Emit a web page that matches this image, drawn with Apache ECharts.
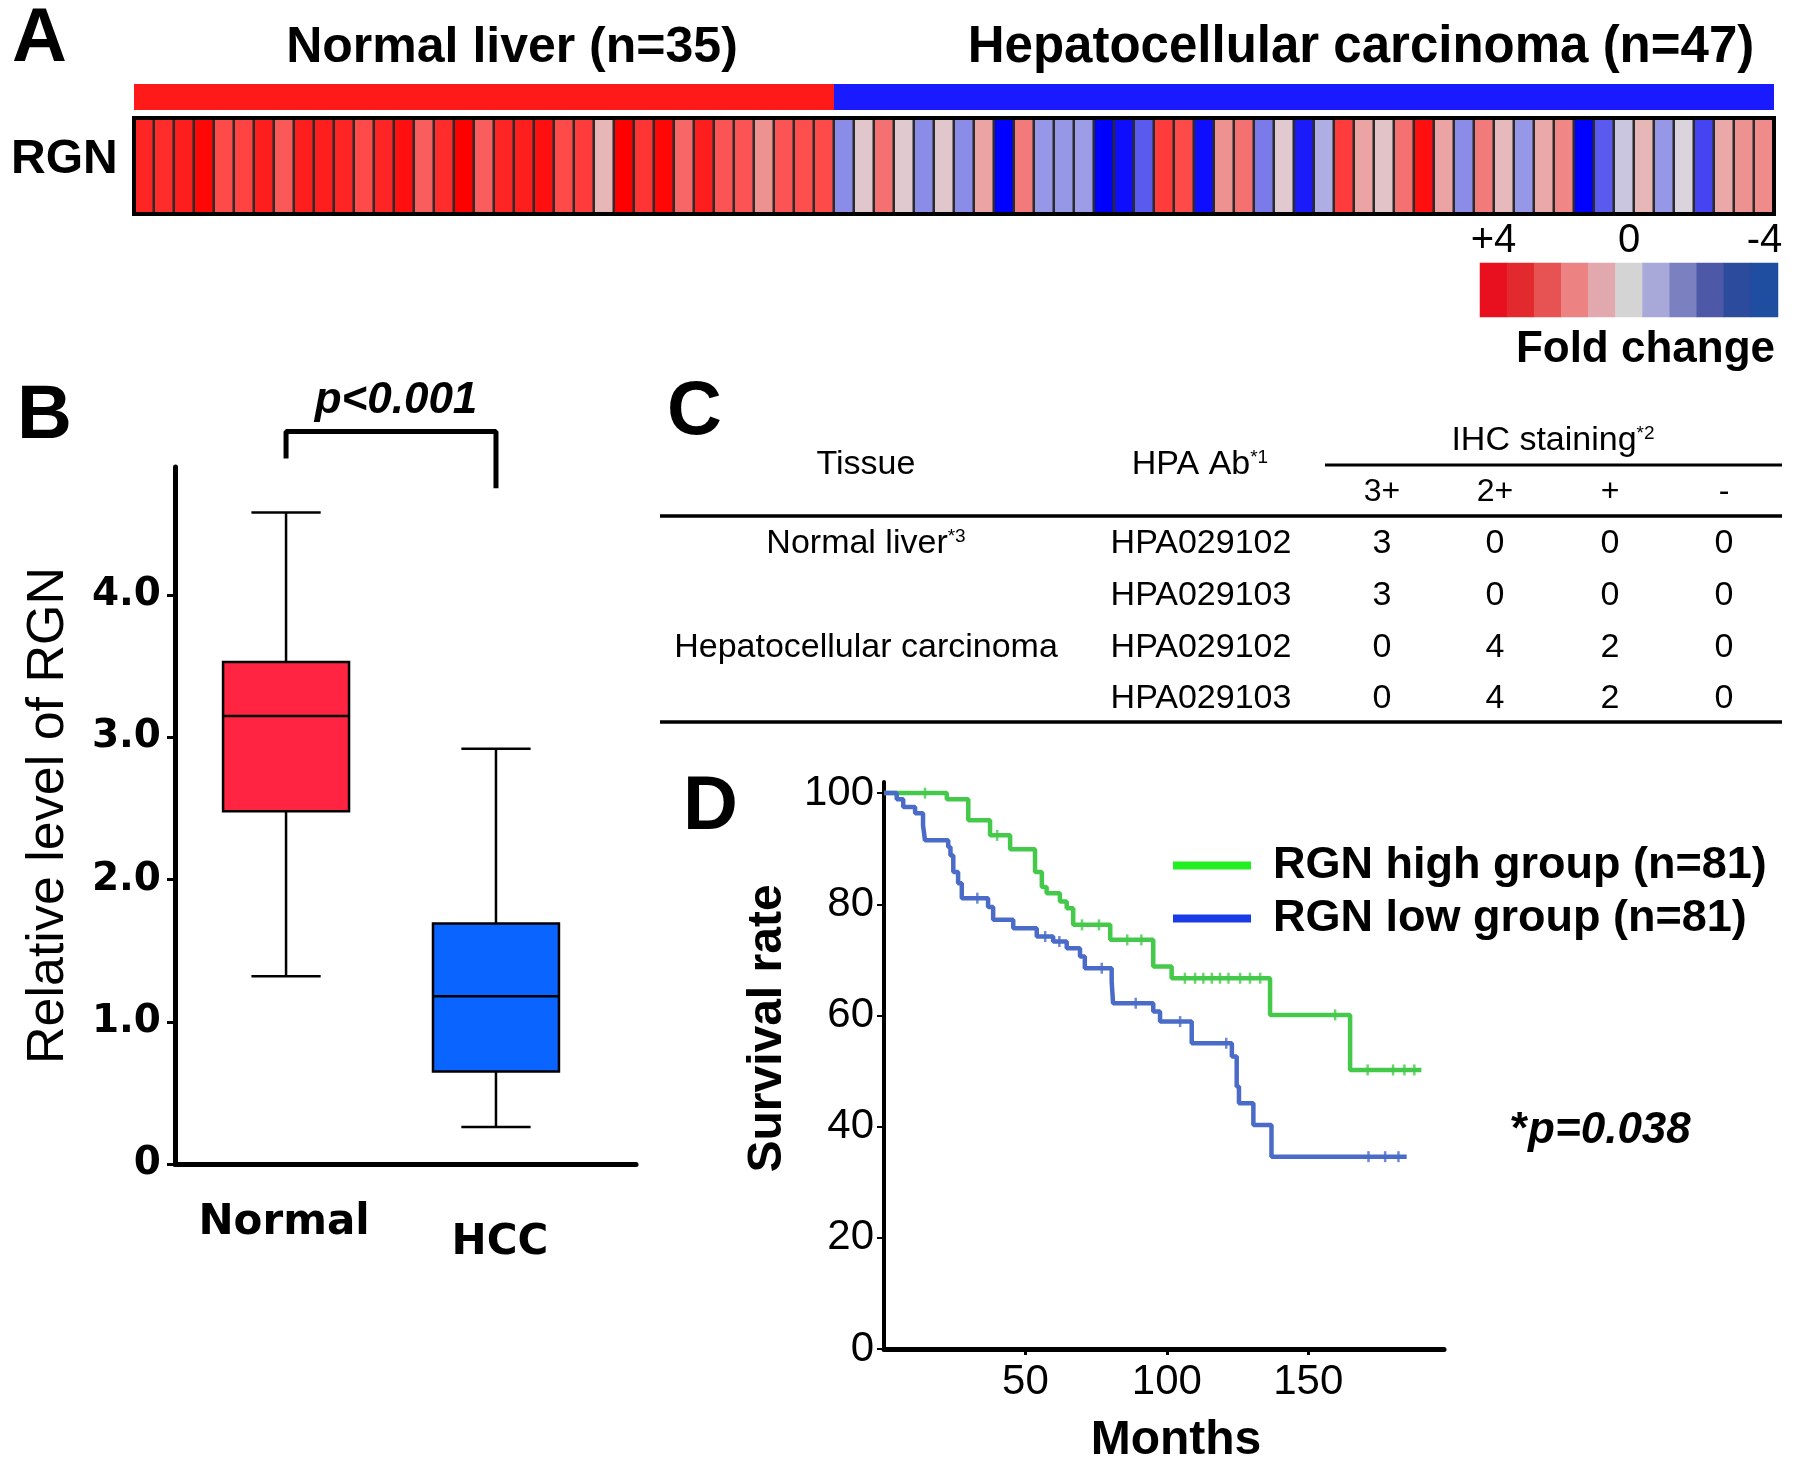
<!DOCTYPE html>
<html>
<head>
<meta charset="utf-8">
<script src="https://cdn.jsdelivr.net/npm/echarts/dist/echarts.min.js"></script>
<style>
  html, body { margin: 0; padding: 0; background: #fff; }
  #chart { width: 1795px; height: 1468px; }
</style>
</head>
<body>
<div id="chart"></div>
<script>
const FONT = 'Liberation Sans, Arial, sans-serif'
const WIDE = 'DejaVu Sans, sans-serif'

// A: heatmap fold changes
const normalFold = [3.5, 3.4, 3.6, 3.9, 3.0, 3.1, 3.6, 2.7, 3.6, 3.6, 3.5, 3.0, 3.5, 3.8, 2.6, 3.4, 4.0, 2.6,
  3.5, 3.6, 3.8, 3.0, 3.2, 0.9, 4.0, 3.3, 3.9, 2.4, 3.6, 2.8, 2.8, 1.6, 2.8, 2.9, 3.0]
const hccFold = [-1.6, 0.4, 2.2, 0.3, -1.6, 0.4, -1.6, 1.3, -4, 2.0, -1.3, -1.3, -1.2, -4, -3.8, -2.6, 3.2, 3.0,
  -3.8, 1.6, 2.2, -2.0, 0.3, -3.6, -0.8, 3.2, 1.3, 0.5, 2.2, 3.8, 1.3, -1.6, 2.0, 0.8, -1.3, 1.2, 1.8, -4,
  -2.6, -0.3, 0.9, -1.3, 0.0, -3.0, 1.2, 1.6, 1.7]
const groupNames = ['Normal liver (n=35)', 'Hepatocellular carcinoma (n=47)']
const legendValues = [4, 3.2, 2.4, 1.6, 0.8, 0, -0.8, -1.6, -2.4, -3.2, -4]
const legendTicks = ['+4', '', '', '', '', '0', '', '', '', '', '-4']

// B: box plot (min, q1, median, q3, max)
const boxGroups = ['Normal', 'HCC']
const normalStats = [1.32, 2.48, 3.15, 3.53, 4.58]
const hccStats = [0.26, 0.65, 1.18, 1.69, 2.92]
const boxTicks = [0, 1, 2, 3, 4]
const bracketPoints = [[0, 4.96], [0, 5.15], [1, 5.15], [1, 4.75]]

// C: table
const tableHead = ['Tissue', 'HPA Ab', 'IHC staining']
const stainLevels = ['3+', '2+', '+', '-']
const tableRows = [
  ['Normal liver', 'HPA029102', 3, 0, 0, 0],
  ['', 'HPA029103', 3, 0, 0, 0],
  ['Hepatocellular carcinoma', 'HPA029102', 0, 4, 2, 0],
  ['', 'HPA029103', 0, 4, 2, 0]
]

// D: Kaplan-Meier
const highTimes = [0, 22.2, 29.8, 37.5, 44.6, 53.4, 55.8, 57.5, 62.2, 64.6, 66.9, 80, 95.2, 101.7, 136.5, 164.8, 190]
const highSurv = [100, 98.9, 95.1, 92.4, 89.9, 85.8, 83.1, 82, 80.5, 79.3, 76.3, 73.6, 68.8, 66.7, 60.1, 50.2, 50.2]
const lowTimes = [0, 4.5, 6.8, 11, 13.8, 14.5, 22.7, 23.5, 24.5, 26.2, 27.5, 36.8, 38.6, 45.7, 54, 59.8, 64.6,
  69.3, 71, 80.5, 81, 95.2, 97.6, 108.8, 123, 124.7, 125.5, 130.6, 137, 184.8]
const lowSurv = [100, 98.9, 97.5, 96.4, 94.2, 91.5, 90.3, 88.8, 85.8, 83.8, 81.1, 79.5, 77.2, 75.7, 74.2, 73.3, 72.1,
  70.6, 68.5, 66.1, 62.2, 60.7, 58.9, 55.0, 52.6, 47.2, 44.2, 40.3, 34.6, 34.6]
const highCensor = [[14.5, 100], [40, 92.4], [70, 76.3], [76, 76.3], [86, 73.6], [91, 73.6], [106.4, 66.7], [110, 66.7],
  [112.9, 66.7], [115.9, 66.7], [118.8, 66.7], [121.8, 66.7], [125.9, 66.7], [129.4, 66.7], [133, 66.7],
  [159.5, 60.1], [171, 50.2], [180, 50.2], [184, 50.2], [187.5, 50.2]]
const lowCensor = [[33, 81.1], [57, 74.2], [62, 73.3], [77, 68.5], [89, 62.2], [104.7, 58.9], [121, 55],
  [171.3, 34.6], [177.2, 34.6], [181.9, 34.6]]
const kmNames = ['RGN high group (n=81)', 'RGN low group (n=81)']
const kmYTicks = [0, 20, 40, 60, 80, 100]
const kmXTicks = [50, 100, 150]

// styles
const heatColors = ['#0000ff', '#4444f2', '#7a7aea', '#a4a4e6', '#dcd4dc', '#e8b4b4', '#f27a7a', '#ff4a4a', '#ff0000']
const legendColors = ['#e8101e', '#e22a2e', '#e75252', '#ec8282', '#e1a9ad', '#d4d4d4', '#a9a9d9', '#7a80c0',
  '#4d58a7', '#2c4b9d', '#1f4d9f']
const groupColors = ['#ff1a1a', '#1a1aff']
const boxColors = ['#ff2442', '#0a64ff']
const kmColors = ['#45c94a', '#4a6cc8']
const kmLegendColors = ['#22ee22', '#1a3ce6']

const allFold = normalFold.concat(hccFold)
const heatData = allFold.map((v, i) => [i, 0, v])
const groupRanges = [[0, 0, normalFold.length - 1], [normalFold.length, 0, allFold.length - 1]]

function label(text, x, y, size, weight, align, extra) {
  return {
    type: 'text', x: x, y: y, z: 10,
    style: Object.assign({
      text: text, fill: '#000', fontSize: size, fontWeight: weight || 'normal', fontFamily: FONT,
      textAlign: align || 'center', textVerticalAlign: 'middle'
    }, extra || {})
  }
}
function hline(x1, x2, y, w) {
  return { type: 'line', z: 10, shape: { x1: x1, y1: y, x2: x2, y2: y }, style: { stroke: '#000', lineWidth: w } }
}
const sup = {
  m: { fontSize: 34, fontFamily: FONT, fill: '#000' },
  s: { fontSize: 19, fontFamily: FONT, fill: '#000', verticalAlign: 'top' }
}

const graphics = [
  { type: 'rect', z: 100, shape: { x: 134, y: 118, width: 1640, height: 96 }, style: { fill: 'none', stroke: '#000', lineWidth: 4 } },
  label('A', 12, 40, 76, 'bold', 'left'),
  label(groupNames[0], 512, 48, 50, 'bold'),
  label(groupNames[1], 1361, 48, 51, 'bold'),
  label('RGN', 11, 160, 48, 'bold', 'left'),
  label('Fold change', 1775, 350, 44, 'bold', 'right'),
  label('B', 17, 417, 76, 'bold', 'left'),
  label('p<0.001', 396, 401, 44, 'bold', 'center', { fontStyle: 'italic' }),
  label('C', 667, 413, 76, 'bold', 'left'),
  label('D', 683, 808, 76, 'bold', 'left'),
  label('{n|*}{i|p=0.038}', 1511, 1131, 44, 'bold', 'left', {
    rich: {
      n: { fontSize: 44, fontWeight: 'bold', fontFamily: FONT, fill: '#000' },
      i: { fontSize: 44, fontWeight: 'bold', fontStyle: 'italic', fontFamily: FONT, fill: '#000' }
    }
  }),
  // table
  label('{m|' + tableHead[0] + '}', 866, 465, 34, 'normal', 'center', { rich: sup }),
  label('{m|' + tableHead[1] + '}{s|*1}', 1200, 465, 34, 'normal', 'center', { rich: sup }),
  label('{m|' + tableHead[2] + '}{s|*2}', 1553, 441, 34, 'normal', 'center', { rich: sup }),
  hline(1325, 1782, 465, 3),
  hline(660, 1782, 516, 3.5),
  hline(660, 1782, 722, 3.5)
]
const levelX = [1382, 1495, 1610, 1724]
const rowY = [544, 596, 648, 699]
stainLevels.forEach((s, i) => graphics.push(label(s, levelX[i], 492, 32)))
tableRows.forEach((row, r) => {
  if (row[0]) {
    const t = r === 0 ? '{m|' + row[0] + '}{s|*3}' : '{m|' + row[0] + '}'
    graphics.push(label(t, 866, rowY[r], 34, 'normal', 'center', { rich: sup }))
  }
  graphics.push(label(row[1], 1201, rowY[r], 34))
  for (let k = 0; k < 4; k++) graphics.push(label(String(row[2 + k]), levelX[k], rowY[r], 34))
})

const chart = echarts.init(document.getElementById('chart'))
const option = {
  animation: false,
  backgroundColor: '#fff',
  textStyle: { fontFamily: FONT, color: '#000' },
  grid: [
    { left: 134, top: 118, width: 1640, height: 96, outerBoundsMode: 'none' },
    { left: 1480, top: 263, width: 298, height: 54, outerBoundsMode: 'none' },
    { left: 175, top: 467, width: 461, height: 697, outerBoundsMode: 'none' },
    { left: 884, top: 782, width: 560, height: 567, outerBoundsMode: 'none' }
  ],
  xAxis: [
    { gridIndex: 0, type: 'category', data: allFold.map((v, i) => String(i)), show: false },
    {
      gridIndex: 1, type: 'category', data: legendValues.map(String), position: 'top',
      axisLine: { show: false }, axisTick: { show: false },
      axisLabel: { interval: 0, fontSize: 40, color: '#000', margin: 2, formatter: (v, i) => legendTicks[i] }
    },
    {
      gridIndex: 2, type: 'value', min: -0.529, max: 1.667,
      axisLine: { show: true, onZero: false, lineStyle: { color: '#000', width: 5 } },
      axisTick: { show: false }, splitLine: { show: false },
      axisLabel: {
        customValues: [0, 1], margin: 38,
        formatter: v => (v === 0 ? '{a|' : '{b|') + boxGroups[v] + '}',
        rich: {
          a: { fontFamily: WIDE, fontWeight: 'bold', fontSize: 42, color: '#000', padding: [0, 4, 0, 0] },
          b: { fontFamily: WIDE, fontWeight: 'bold', fontSize: 42, color: '#000', padding: [20, 0, 0, 8] }
        }
      }
    },
    {
      gridIndex: 3, type: 'value', min: 0, max: 198,
      axisLine: { show: true, onZero: false, lineStyle: { color: '#000', width: 5 } },
      axisTick: { show: true, customValues: kmXTicks, length: 6, lineStyle: { color: '#000', width: 3 } },
      axisLabel: { customValues: kmXTicks, fontSize: 42, color: '#000', margin: 12 },
      splitLine: { show: false },
      name: 'Months', nameLocation: 'middle', nameGap: 68, nameMoveOverlap: false,
      nameTextStyle: { fontSize: 48, fontWeight: 'bold', color: '#000', padding: [0, 0, 0, 24] }
    }
  ],
  yAxis: [
    { gridIndex: 0, type: 'category', data: ['RGN'], show: false },
    { gridIndex: 1, type: 'category', data: ['fold'], show: false },
    {
      gridIndex: 2, type: 'value', min: 0, max: 4.9,
      axisLine: { show: true, onZero: false, lineStyle: { color: '#000', width: 5 } },
      axisTick: { show: true, customValues: boxTicks, length: 8, lineStyle: { color: '#000', width: 3 } },
      axisLabel: {
        customValues: boxTicks, margin: 14, fontFamily: WIDE, fontWeight: 'bold', fontSize: 39, color: '#000',
        formatter: v => (v === 0 ? '0' : v.toFixed(1))
      },
      splitLine: { show: false },
      name: 'Relative level of RGN', nameLocation: 'middle', nameGap: 100,
      nameTextStyle: { fontSize: 52, color: '#000' }
    },
    {
      gridIndex: 3, type: 'value', min: 0, max: 102,
      axisLine: { show: true, onZero: false, lineStyle: { color: '#000', width: 4 } },
      axisTick: { show: true, customValues: kmYTicks, length: 7, lineStyle: { color: '#000', width: 2 } },
      axisLabel: { customValues: kmYTicks, fontSize: 42, color: '#000', margin: 10 },
      splitLine: { show: false },
      name: 'Survival rate', nameLocation: 'middle', nameGap: 92,
      nameTextStyle: { fontSize: 48, fontWeight: 'bold', color: '#000', padding: [0, 0, 0, 74] }
    }
  ],
  visualMap: [
    { type: 'continuous', seriesIndex: 0, min: -4, max: 4, show: false, inRange: { color: heatColors } },
    {
      type: 'piecewise', seriesIndex: 1, show: false,
      pieces: legendValues.map((v, i) => ({ value: v, color: legendColors[i] }))
    }
  ],
  legend: {
    data: kmNames.map((n, i) => ({ name: n, itemStyle: { color: kmLegendColors[i], borderWidth: 0 } })),
    orient: 'vertical', left: 1168, top: 838, icon: 'rect', itemWidth: 78, itemHeight: 8, itemGap: 8,
    selectedMode: false,
    textStyle: { fontSize: 45, fontWeight: 'bold', color: '#000', padding: [0, 0, 0, 17] }
  },
  graphic: graphics,
  series: [
    {
      type: 'heatmap', xAxisIndex: 0, yAxisIndex: 0, data: heatData,
      itemStyle: { borderColor: '#2b2b2b', borderWidth: 2.5 }
    },
    {
      type: 'heatmap', xAxisIndex: 1, yAxisIndex: 1,
      data: legendValues.map((v, i) => [i, 0, v]), itemStyle: { borderWidth: 0 }
    },
    {
      type: 'custom', xAxisIndex: 0, yAxisIndex: 0, data: groupRanges, clip: false,
      encode: { x: 0, y: 1 },
      renderItem: (params, api) => {
        const cell = api.size([1, 1])
        const p0 = api.coord([api.value(0), 0])
        const p1 = api.coord([api.value(2), 0])
        const top = p0[1] - cell[1] / 2
        return {
          type: 'rect',
          shape: { x: p0[0] - cell[0] / 2, y: top - 34, width: p1[0] - p0[0] + cell[0], height: 26 },
          style: { fill: groupColors[params.dataIndex] }
        }
      }
    },
    {
      type: 'custom', xAxisIndex: 2, yAxisIndex: 2,
      data: [[0].concat(normalStats), [1].concat(hccStats)],
      encode: { x: 0, y: [1, 2, 3, 4, 5] },
      renderItem: (params, api) => {
        const x = api.value(0)
        const pMin = api.coord([x, api.value(1)])
        const pQ1 = api.coord([x, api.value(2)])
        const pMed = api.coord([x, api.value(3)])
        const pQ3 = api.coord([x, api.value(4)])
        const pMax = api.coord([x, api.value(5)])
        const bw = api.size([1, 0])[0] * 0.6
        const cw = bw * 0.55
        const cx = pMed[0]
        const ls = { stroke: '#000', lineWidth: 2.5 }
        return {
          type: 'group',
          children: [
            { type: 'line', shape: { x1: cx, y1: pMax[1], x2: cx, y2: pQ3[1] }, style: ls },
            { type: 'line', shape: { x1: cx, y1: pQ1[1], x2: cx, y2: pMin[1] }, style: ls },
            { type: 'line', shape: { x1: cx - cw / 2, y1: pMax[1], x2: cx + cw / 2, y2: pMax[1] }, style: ls },
            { type: 'line', shape: { x1: cx - cw / 2, y1: pMin[1], x2: cx + cw / 2, y2: pMin[1] }, style: ls },
            {
              type: 'rect', shape: { x: cx - bw / 2, y: pQ3[1], width: bw, height: pQ1[1] - pQ3[1] },
              style: { fill: boxColors[params.dataIndex], stroke: '#000', lineWidth: 2.5 }
            },
            { type: 'line', shape: { x1: cx - bw / 2, y1: pMed[1], x2: cx + bw / 2, y2: pMed[1] }, style: ls }
          ]
        }
      }
    },
    {
      type: 'line', xAxisIndex: 2, yAxisIndex: 2, data: bracketPoints, clip: false,
      symbol: 'none', lineStyle: { color: '#000', width: 5 }, silent: true
    },
    {
      name: kmNames[0], type: 'line', xAxisIndex: 3, yAxisIndex: 3, step: 'end', symbol: 'none',
      data: highTimes.map((t, i) => [t, highSurv[i]]),
      itemStyle: { color: kmColors[0] }, lineStyle: { color: kmColors[0], width: 4.5 }
    },
    {
      name: kmNames[1], type: 'line', xAxisIndex: 3, yAxisIndex: 3, step: 'end', symbol: 'none',
      data: lowTimes.map((t, i) => [t, lowSurv[i]]),
      itemStyle: { color: kmColors[1] }, lineStyle: { color: kmColors[1], width: 4.5 }
    },
    {
      type: 'scatter', xAxisIndex: 3, yAxisIndex: 3, data: highCensor, symbol: 'rect', symbolSize: [2.5, 11],
      itemStyle: { color: kmColors[0] }, silent: true
    },
    {
      type: 'scatter', xAxisIndex: 3, yAxisIndex: 3, data: lowCensor, symbol: 'rect', symbolSize: [2.5, 11],
      itemStyle: { color: kmColors[1] }, silent: true
    }
  ]
}
chart.setOption(option)
window.addEventListener('resize', () => chart.resize())
</script>
</body>
</html>
